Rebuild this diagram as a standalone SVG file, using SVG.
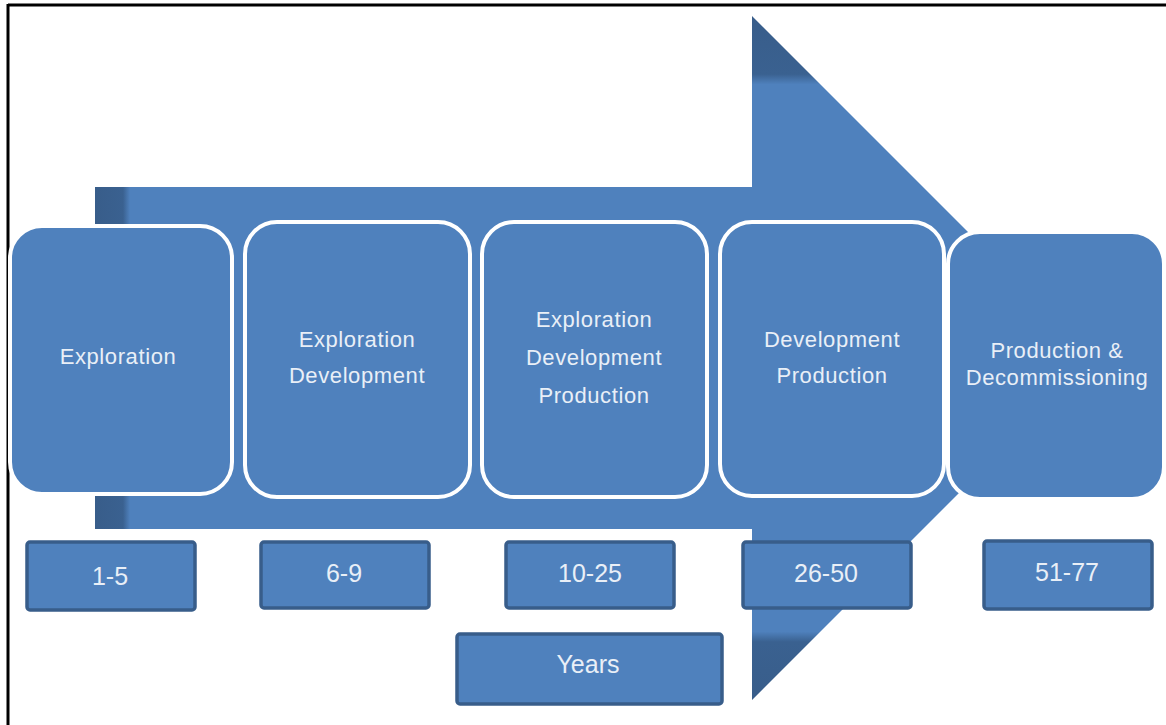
<svg xmlns="http://www.w3.org/2000/svg" width="1166" height="725" viewBox="0 0 1166 725">
<defs>
<linearGradient id="headGrad" gradientUnits="userSpaceOnUse" x1="0" y1="16" x2="0" y2="700">
<stop offset="0" stop-color="#385d8a"/>
<stop offset="0.085" stop-color="#3a6190"/>
<stop offset="0.1" stop-color="#4f81bd"/>
<stop offset="0.9" stop-color="#4f81bd"/>
<stop offset="0.915" stop-color="#3a6190"/>
<stop offset="1" stop-color="#385d8a"/>
</linearGradient>
<linearGradient id="tailGrad" gradientUnits="userSpaceOnUse" x1="95" y1="0" x2="130" y2="0">
<stop offset="0" stop-color="#385d8a"/>
<stop offset="0.8" stop-color="#3a6190"/>
<stop offset="1" stop-color="#4f81bd"/>
</linearGradient>
</defs>
<style>
.phase{fill:#4f81bd;stroke:#ffffff;stroke-width:4}
.yr{fill:#4f81bd;stroke:#385d8a;stroke-width:3.5}
.t{font-family:"Liberation Sans",Arial,sans-serif;font-size:22px;letter-spacing:0.6px;fill:#e9eff7;text-anchor:middle}
.y{font-family:"Liberation Sans",Arial,sans-serif;font-size:25px;fill:#e9eff7;text-anchor:middle}
</style>
<rect width="1166" height="725" fill="#ffffff"/>
<g id="frame" stroke="#000000" stroke-width="3" fill="none">
<line x1="8" y1="5" x2="1166" y2="5"/>
<line x1="8" y1="4" x2="8" y2="725"/>
</g>
<g id="arrow">
<polygon points="95,187 752,187 752,16 1094,358 752,700 752,529 95,529" fill="url(#headGrad)"/>
<rect x="95" y="187" width="35" height="342" fill="url(#tailGrad)"/>
</g>
<g id="connectors"></g>
<g id="phase1"><rect class="phase" x="10" y="226" width="222" height="268" rx="32"/><text class="t" x="118" y="364">Exploration</text></g>
<g id="phase2"><rect class="phase" x="245" y="222" width="225" height="275" rx="32"/><text class="t" x="357" y="347">Exploration</text><text class="t" x="357" y="383">Development</text></g>
<g id="phase3"><rect class="phase" x="482" y="222" width="225" height="275" rx="32"/><text class="t" x="594" y="327">Exploration</text><text class="t" x="594" y="365">Development</text><text class="t" x="594" y="403">Production</text></g>
<g id="phase4"><rect class="phase" x="720" y="222" width="224" height="274" rx="32"/><text class="t" x="832" y="347">Development</text><text class="t" x="832" y="383">Production</text></g>
<g id="phase5"><rect class="phase" x="948" y="232" width="216" height="267" rx="32"/><text class="t" x="1057" y="358">Production &amp;</text><text class="t" x="1057" y="385">Decommissioning</text></g>
<g id="yr1"><rect class="yr" x="27" y="542" width="168" height="68" rx="3"/><text class="y" x="110" y="585">1-5</text></g>
<g id="yr2"><rect class="yr" x="261" y="542" width="168" height="66" rx="3"/><text class="y" x="344" y="582">6-9</text></g>
<g id="yr3"><rect class="yr" x="506" y="542" width="168" height="66" rx="3"/><text class="y" x="590" y="582">10-25</text></g>
<g id="yr4"><rect class="yr" x="743" y="542" width="168" height="66" rx="3"/><text class="y" x="826" y="582">26-50</text></g>
<g id="yr5"><rect class="yr" x="984" y="541" width="168" height="68" rx="3"/><text class="y" x="1067" y="581">51-77</text></g>
<g id="years"><rect class="yr" x="457" y="634" width="265" height="70" rx="3"/><text class="y" x="588" y="673">Years</text></g>
</svg>
